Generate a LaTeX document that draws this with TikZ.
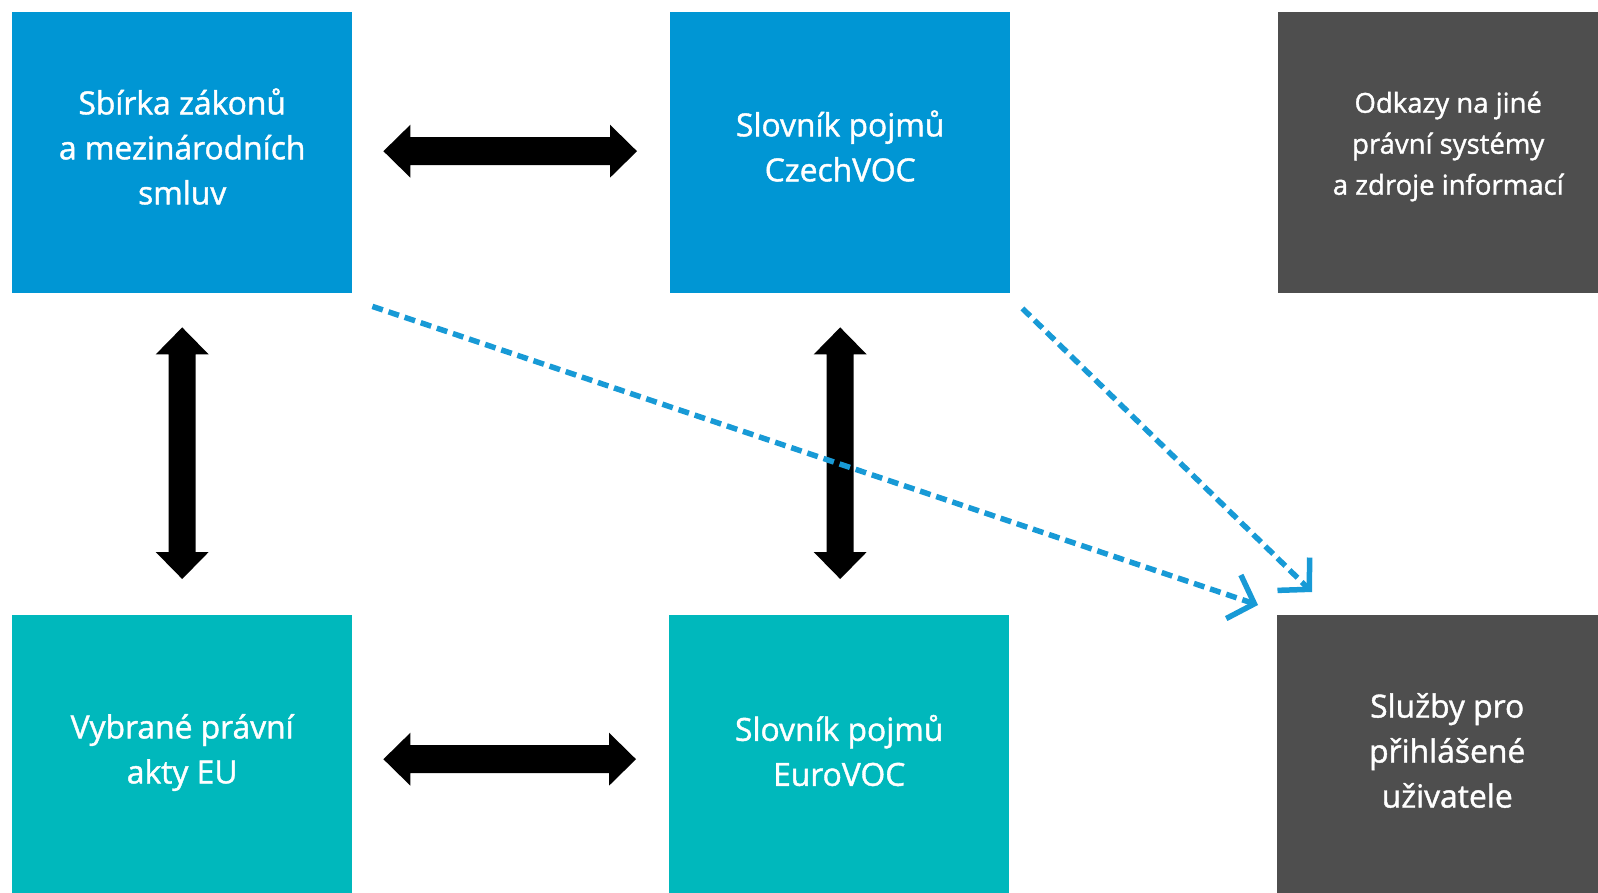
\documentclass[tikz,border=0pt]{standalone}
\usepackage{fontspec}
\setmainfont{Open Sans}
\newfontfamily\medfont{Open Sans}[FakeBold=1.3]
\usetikzlibrary{arrows.meta,calc}
\definecolor{cblue}{RGB}{0,150,212}
\definecolor{cteal}{RGB}{0,184,188}
\definecolor{cgray}{RGB}{78,78,78}
\definecolor{cdash}{RGB}{24,154,214}
\tikzset{
  boxbase/.style={rectangle, inner sep=0pt, anchor=north west, minimum width=340pt},
  txt/.style={text=white, align=center, inner sep=0pt},
  bigfont/.style={font=\medfont\fontsize{31.8}{45}\selectfont},
  smallfont/.style={font=\medfont\fontsize{27.5}{41}\selectfont},
  blockfill/.style={fill=black},
  dasharrow/.style={draw=cdash, line width=5.5pt, dash pattern=on 11pt off 6pt,
    -{Straight Barb[length=22pt,width=46pt,line width=5.5pt]}}
}
% double block arrow, horizontal, between coordinates #1 (left tip) and #2 (right tip)
\newcommand\dblarrowH[2]{%
  \fill[blockfill] (#1) -- ($(#1)+(27,-26.5)$) -- ($(#1)+(27,-14)$) -- ($(#2)+(-27,-14)$)
    -- ($(#2)+(-27,-26.5)$) -- (#2) -- ($(#2)+(-27,26.5)$) -- ($(#2)+(-27,14)$)
    -- ($(#1)+(27,14)$) -- ($(#1)+(27,26.5)$) -- cycle;}
% vertical, #1 top tip, #2 bottom tip (y grows downward)
\newcommand\dblarrowV[2]{%
  \fill[blockfill] (#1) -- ($(#1)+(26.5,27)$) -- ($(#1)+(13.5,27)$) -- ($(#2)+(13.5,-27)$)
    -- ($(#2)+(26.5,-27)$) -- (#2) -- ($(#2)+(-26.5,-27)$) -- ($(#2)+(-13.5,-27)$)
    -- ($(#1)+(-13.5,27)$) -- ($(#1)+(-26.5,27)$) -- cycle;}
\begin{document}
\begin{tikzpicture}[x=1pt,y=-1pt]
\useasboundingbox (0,0) rectangle (1598,892);
\node[boxbase, fill=cblue, minimum height=281pt] (sb) at (12,12) {};
\node[boxbase, fill=cblue, minimum height=281pt] (cz) at (670,12) {};
\node[boxbase, fill=cgray, minimum height=281pt] (od) at (1278,12) {};
\node[boxbase, fill=cteal, minimum height=288pt] (eu) at (12,615) {};
\node[boxbase, fill=cteal, minimum height=288pt] (ev) at (669,615) {};
\node[boxbase, fill=cgray, minimum height=288pt] (sl) at (1277,615) {};
\node[txt, bigfont] (sbt) at ($(sb.north)+(0,134.5)$) {Sbírka zákonů\\a mezinárodních\\smluv};
\node[txt, bigfont] (czt) at ($(cz.north)+(0,134)$) {Slovník pojmů\\CzechVOC};
\node[txt, smallfont] (odt) at ($(od.north)+(0,134.5)$) {Odkazy na jiné\\právní systémy\\a zdroje informací};
\node[txt, bigfont] (eut) at ($(eu.north)+(0,137.5)$) {Vybrané právní\\akty EU};
\node[txt, bigfont] (evt) at ($(ev.north)+(0,135.5)$) {Slovník pojmů\\EuroVOC};
\node[txt, bigfont] (slt) at ($(sl.north)+(0,135.5)$) {Služby pro\\přihlášené\\uživatele};
\coordinate (h1a) at ($(sb.east)+(31,-1.5)$);
\coordinate (h1b) at ($(cz.west |- h1a)+(-33,0)$);
\coordinate (h2a) at ($(eu.east)+(31,0)$);
\coordinate (h2b) at ($(ev.west)+(-33,0)$);
\coordinate (v1a) at ($(sb.south)+(0,34)$);
\coordinate (v1b) at ($(eu.north)+(0,-36)$);
\coordinate (v2a) at ($(cz.south)+(0,34)$);
\coordinate (v2b) at ($(ev.north -| v2a)+(0,-36)$);
\dblarrowH{h1a}{h1b}
\dblarrowH{h2a}{h2b}
\dblarrowV{v1a}{v1b}
\dblarrowV{v2a}{v2b}
\coordinate (s1) at ($(sb.south east)+(20,13)$);
\coordinate (e1) at ($(sl.north west)+(-19,-10)$);
\coordinate (s2) at ($(cz.south east)+(12,15)$);
\coordinate (e2) at ($(sl.north west)+(35,-23)$);
\draw[dasharrow] (s1) -- (e1);
\draw[dasharrow] (s2) -- (e2);
\end{tikzpicture}
\end{document}
